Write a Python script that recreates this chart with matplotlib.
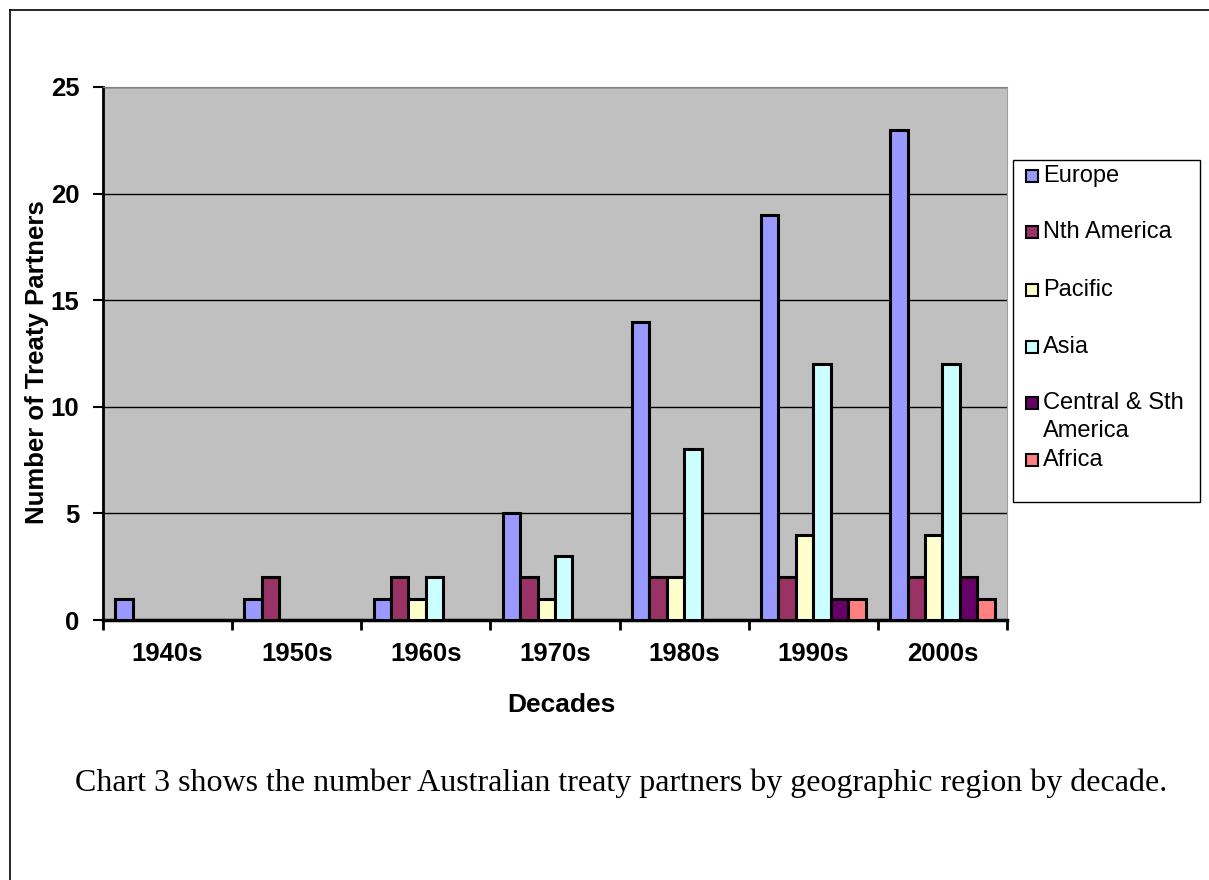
import numpy as np
import matplotlib.pyplot as plt
from matplotlib.patches import Rectangle
from matplotlib.lines import Line2D

decades = ['1940s', '1950s', '1960s', '1970s', '1980s', '1990s', '2000s']
regions = ['Europe', 'Nth America', 'Pacific', 'Asia', 'Central & Sth\nAmerica', 'Africa']
europe = [1, 1, 1, 5, 14, 19, 23]
nth_america = [0, 2, 2, 2, 2, 2, 2]
pacific = [0, 0, 1, 1, 2, 4, 4]
asia = [0, 0, 2, 3, 8, 12, 12]
central_sth_america = [0, 0, 0, 0, 0, 1, 2]
africa = [0, 0, 0, 0, 0, 1, 1]
colors = ['#9999FF', '#993366', '#FFFFCC', '#CCFFFF', '#660066', '#FF8080']

series = [europe, nth_america, pacific, asia, central_sth_america, africa]

fig = plt.figure(figsize=(12.09, 8.80), dpi=100)
W, H = 1209, 880

def fx(px):
    return px / W

def fy(py):
    return 1 - py / H

# page border (top and left)
fig.add_artist(Line2D([fx(10), 1.0], [fy(10), fy(10)], color='black', lw=1.2))
fig.add_artist(Line2D([fx(10), fx(10)], [fy(10), 0.0], color='black', lw=1.2))

ax = fig.add_axes([fx(103), fy(620), fx(1007) - fx(103), fy(87) - fy(620)])
ax.set_facecolor('#C0C0C0')

x = np.arange(len(decades))
w = 0.135
for j, (vals, c, lab) in enumerate(zip(series, colors, regions)):
    vals = np.array(vals)
    m = vals > 0
    ax.bar(x[m] + (j - 2.5) * w, vals[m], width=w, color=c,
           edgecolor='black', linewidth=2.2, zorder=3)

ax.set_xlim(-0.5, len(decades) - 0.5)
ax.set_ylim(0, 25)
ax.set_yticks([0, 5, 10, 15, 20, 25])
ax.grid(axis='y', color='black', linewidth=1.0, zorder=1)
ax.set_axisbelow(True)

ax.set_xticks(np.arange(-0.5, len(decades), 1.0))
ax.set_xticklabels([])
ax.set_xticks(x, minor=True)
ax.set_xticklabels(decades, minor=True)
ax.tick_params(axis='x', which='major', direction='out', length=7, width=2)
ax.tick_params(axis='x', which='minor', length=0, pad=16)
ax.tick_params(axis='y', direction='out', length=7, width=1.5, pad=10)

for lbl in ax.get_xticklabels(minor=True) + ax.get_yticklabels():
    lbl.set_fontfamily('Liberation Sans')
    lbl.set_fontweight('bold')
    lbl.set_fontsize(18.5)

ax.spines['left'].set_linewidth(2)
ax.spines['bottom'].set_linewidth(2.5)
ax.spines['top'].set_color('#808080')
ax.spines['right'].set_color('#A0A0A0')

fig.text(fx(561), fy(705), 'Decades', ha='center', va='center',
         fontfamily='Liberation Sans', fontweight='bold', fontsize=19)
fig.text(fx(37), fy(362), 'Number of Treaty Partners', ha='center', va='center',
         rotation=90, fontfamily='Liberation Sans', fontweight='bold', fontsize=18.5)

# legend box
fig.add_artist(Rectangle((fx(1013), fy(502)), fx(1200) - fx(1013), fy(160) - fy(502),
                         transform=fig.transFigure, facecolor='white',
                         edgecolor='black', linewidth=1.0))
legend_y = [176, 232, 290, 347, 417, 460]
for lab, c, py in zip(regions, colors, legend_y):
    fig.add_artist(Rectangle((fx(1026), fy(py + 6 if '\n' not in lab else py - 8)),
                             fx(1038) - fx(1026), fy(py - 6) - fy(py + 6),
                             transform=fig.transFigure, facecolor=c,
                             edgecolor='black', linewidth=1.5))
    fig.text(fx(1043), fy(py), lab, ha='left', va='center',
             fontfamily='Liberation Sans', fontsize=17, linespacing=1.4)

fig.text(fx(621), fy(783), 'Chart 3 shows the number Australian treaty partners by geographic region by decade.',
         ha='center', va='center', fontfamily='Liberation Serif', fontsize=23)

fig.savefig('out.png', dpi=100)
